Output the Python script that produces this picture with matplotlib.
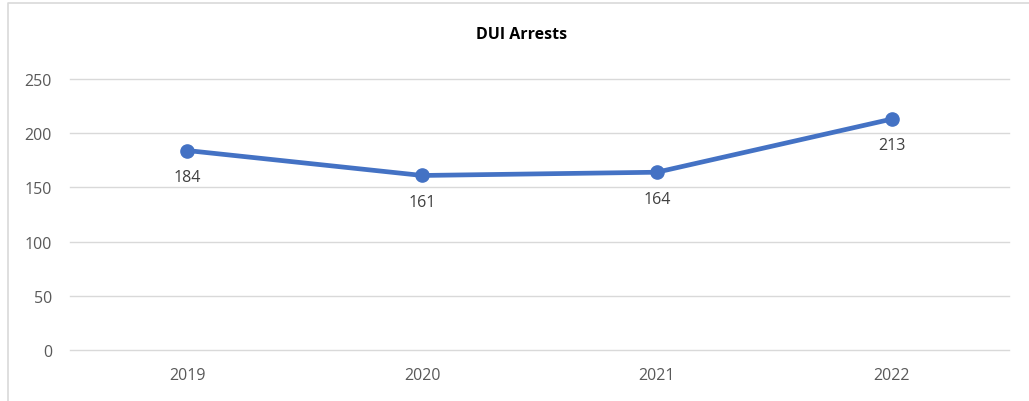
import matplotlib
matplotlib.use("Agg")
import matplotlib.pyplot as plt
from matplotlib.lines import Line2D

years = ["2019", "2020", "2021", "2022"]
arrests = [184, 161, 164, 213]
yticks = [0, 50, 100, 150, 200, 250]

plt.rcParams['font.family'] = ['Open Sans', 'DejaVu Sans']

W, H = 1029, 402
fig = plt.figure(figsize=(W / 100, H / 100), dpi=100)
ax = fig.add_axes([70 / W, 51 / H, (1009 - 70) / W, (351 - 80) / H])

x = list(range(len(years)))
ax.plot(x, arrests, color="#4472C4", linewidth=3.4, marker="o", markersize=9.5,
        solid_capstyle="round", zorder=3)
for xi, v in zip(x, arrests):
    ax.annotate(str(v), (xi, v), xytext=(0, -19), textcoords="offset points",
                ha="center", va="center", fontsize=11.5, color="#404040")

ax.set_xlim(-0.5, len(years) - 0.5)
ax.set_ylim(0, 250)
ax.set_yticks(yticks)
ax.set_xticks(x)
ax.set_xticklabels(years)
ax.grid(axis="y", color="#D9D9D9", linewidth=1.0)
for gl in ax.get_ygridlines():
    gl.set_clip_on(False)
ax.set_axisbelow(True)
for s in ax.spines.values():
    s.set_visible(False)
ax.tick_params(axis="both", length=0, labelsize=11.5, colors="#595959")
ax.tick_params(axis="y", pad=13)
ax.tick_params(axis="x", pad=12.5)

fig.text(522 / W, 1 - 35 / H, "DUI Arrests", ha="center", va="center",
         fontsize=11.5, fontweight="bold", color="#000000")

# chart frame (left and top edges visible)
fig.add_artist(Line2D([7.5 / W, 7.5 / W, 1.0], [0.0, 1 - 3.5 / H, 1 - 3.5 / H],
                      transform=fig.transFigure, color="#D9D9D9", linewidth=1.2))

fig.savefig("out.png", dpi=100, facecolor="white")
